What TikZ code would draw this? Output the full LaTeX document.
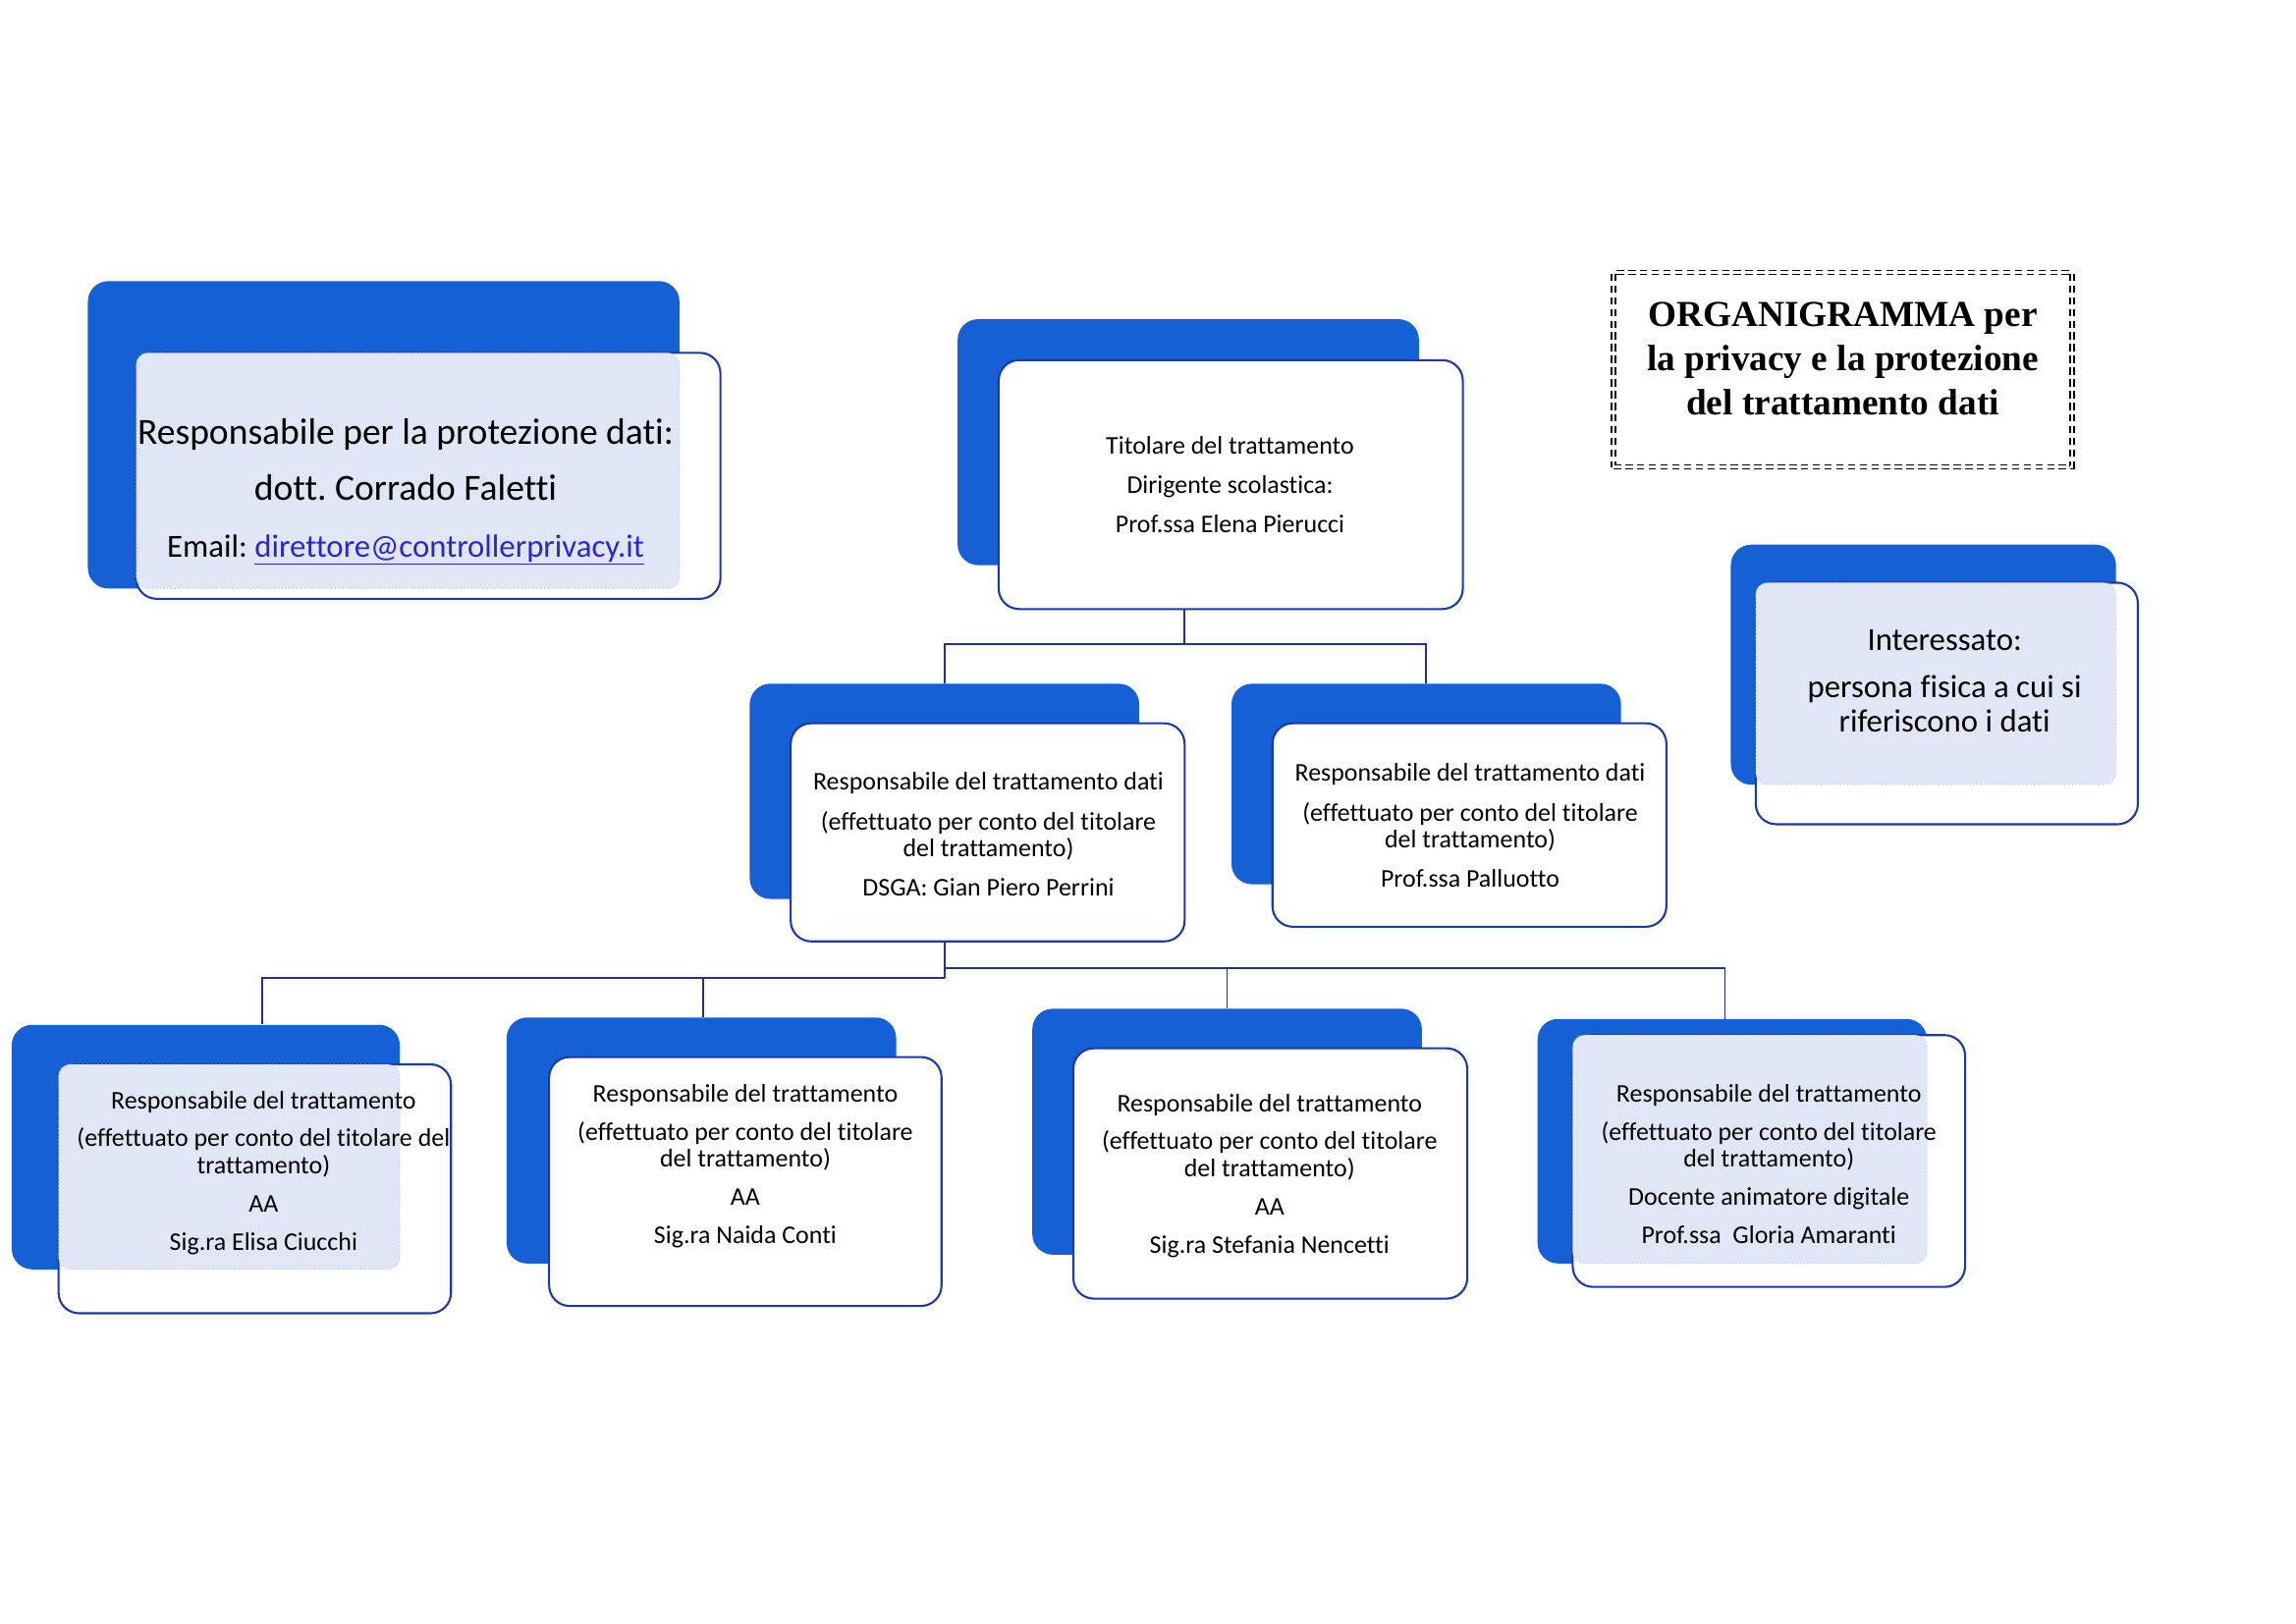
\documentclass[tikz,border=0pt]{standalone}
\usepackage{fontspec}
\setmainfont[Ligatures=NoCommon]{Carlito}
\newfontfamily\titlefont{Liberation Serif}
\usetikzlibrary{fit,calc}
\definecolor{bblue}{RGB}{22,96,214}
\definecolor{fblue}{RGB}{30,55,170}
\definecolor{lnblue}{RGB}{35,50,140}
\definecolor{hatchc}{RGB}{224,230,246}
\definecolor{linkblue}{RGB}{40,40,200}
\frenchspacing
\begin{document}
\begin{tikzpicture}[x=1pt,y=-1pt,
  backbox/.style={fill=bblue, rounded corners=14pt, inner sep=0pt, draw=none},
  frontbox/.style={fill=white, draw=fblue, line width=1.4pt, rounded corners=14pt, inner sep=0pt},
  hatchbox/.style={fill=hatchc, draw=gray!50, dotted, line width=0.6pt, rounded corners=8pt, inner sep=0pt},
  txt/.style={align=center, inner sep=0pt, text=black, font=\fontsize{17.4}{18.5}\selectfont},
  conn/.style={draw=lnblue, line width=1.2pt},
  titlebox/.style={draw=black, line width=1.1pt, double=white, double distance=1.6pt, dash pattern=on 5pt off 3pt}]

\fill[white] (0,0) rectangle (1568,1109);
\useasboundingbox (0,0) rectangle (1568,1109);

% ---------- DPO box ----------
\node[backbox, fit={(60,192) (464,402)}] (dpoB) {};
\node[frontbox, fit={(93,241) (492,409)}] (dpo) {};
\node[hatchbox, fit={(93,241) (464,402)}] (dpoH) {};
\node[txt, font=\fontsize{25.2}{38.5}\selectfont] (dpoT) at (277,336)
  {Responsabile per la protezione dati:\\ dott.\ Corrado Faletti\\
   {\fontsize{22}{38.5}\selectfont Email: \textcolor{linkblue}{\underline{direttore@controllerprivacy.it}}}};

% ---------- Title ----------
\node[titlebox, fit={(1102,186) (1415,319)}, inner sep=0pt] (title) {};
\node[align=center, inner sep=0pt, font=\titlefont\bfseries\fontsize{25}{30.5}\selectfont] (titleT) at (1258.5,245)
  {ORGANIGRAMMA per\\ la privacy e la protezione\\ del trattamento dati};

% ---------- Titolare ----------
\node[backbox, fit={(654,218) (969,386)}] (titB) {};
\node[frontbox, fit={(682,246) (999,416)}] (tit) {};
\node[txt, font=\fontsize{17.4}{27}\selectfont] (titT) at (840,331)
  {Titolare del trattamento\\ Dirigente scolastica:\\ Prof.ssa Elena Pierucci};

% ---------- Interessato ----------
\node[backbox, fit={(1182,372) (1445,536)}] (intB) {};
\node[frontbox, fit={(1199,398) (1460,563)}] (int) {};
\node[hatchbox, fit={(1199,398) (1445,536)}] (intH) {};
\node[txt, font=\fontsize{22}{23.5}\selectfont] (intT) at (1328,465)
  {Interessato:\\[9pt] persona fisica a cui si\\ riferiscono i dati};

% ---------- DSGA ----------
\node[backbox, fit={(512,467) (778,614)}] (dsgaB) {};
\node[frontbox, fit={(540,494) (809,643)}] (dsga) {};
\node[txt] (dsgaT) at (675,570)
  {Responsabile del trattamento dati\\[8.5pt] (effettuato per conto del titolare\\ del trattamento)\\[8.5pt] DSGA: Gian Piero Perrini};

% ---------- Palluotto ----------
\node[backbox, fit={(841,467) (1107,604)}] (palB) {};
\node[frontbox, fit={(869,494) (1138,633)}] (pal) {};
\node[txt] (palT) at (1004,564)
  {Responsabile del trattamento dati\\[8.5pt] (effettuato per conto del titolare\\ del trattamento)\\[8.5pt] Prof.ssa Palluotto};

% ---------- Bottom row ----------
\node[backbox, fit={(8,700) (273,867)}] (b1B) {};
\node[frontbox, fit={(40,727) (308,897)}] (b1) {};
\node[hatchbox, fit={(40,727) (273,867)}] (b1H) {};
\node[txt] (b1T) at (180,801)
  {Responsabile del trattamento\\[7.5pt] (effettuato per conto del titolare del\\ trattamento)\\[7.5pt] AA\\[7.5pt] Sig.ra Elisa Ciucchi};

\node[backbox, fit={(346,695) (612,863)}] (b2B) {};
\node[frontbox, fit={(375,722) (643,892)}] (b2) {};
\node[txt] (b2T) at (509,796.5)
  {Responsabile del trattamento\\[7.5pt] (effettuato per conto del titolare\\ del trattamento)\\[7.5pt] AA\\[7.5pt] Sig.ra Naida Conti};

\node[backbox, fit={(705,689) (971,857)}] (b3B) {};
\node[frontbox, fit={(733,716) (1002,887)}] (b3) {};
\node[txt] (b3T) at (867,803)
  {Responsabile del trattamento\\[7.5pt] (effettuato per conto del titolare\\ del trattamento)\\[7.5pt] AA\\[7.5pt] Sig.ra Stefania Nencetti};

\node[backbox, fit={(1050,696) (1316,863)}] (b4B) {};
\node[frontbox, fit={(1074,707) (1342,879)}] (b4) {};
\node[hatchbox, fit={(1074,707) (1316,863)}] (b4H) {};
\node[txt] (b4T) at (1208,795)
  {Responsabile del trattamento\\[7.5pt] (effettuato per conto del titolare\\ del trattamento)\\[7.5pt] Docente animatore digitale\\[7.5pt] Prof.ssa~ Gloria Amaranti};

% ---------- Connectors ----------
\coordinate (j0) at (809,440);
\coordinate (jl) at (645,440);
\coordinate (jr) at (974,440);
\draw[conn] (tit.south -| j0) -- (j0);
\draw[conn] (jl |- dsgaB.north) -- (jl) -- (jr) -- (jr |- palB.north);

\coordinate (k0) at (645,668);
\coordinate (k1) at (645,661);
\coordinate (ka) at (179,668);
\coordinate (kb) at (480,668);
\coordinate (kc) at (838,661);
\coordinate (kd) at (1178,661);
\draw[conn] (dsga.south -| k0) -- (k0);
\draw[conn] (ka |- b1B.north) -- (ka) -- (k0);
\draw[conn] (kb) -- (kb |- b2B.north);
\draw[conn] (k1) -- (kd) -- (kd |- b4B.north);
\draw[conn] (kc) -- (kc |- b3B.north);
\end{tikzpicture}
\end{document}
